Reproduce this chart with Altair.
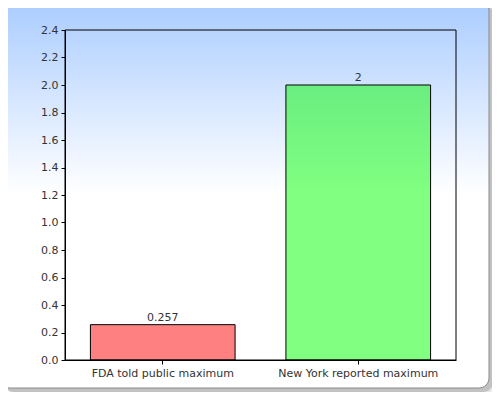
import altair as alt
import pandas as pd

categories = ["FDA told public maximum", "New York reported maximum"]
values = [0.257, 2]
value_labels = ["0.257", "2"]
y_ticks = [0.0, 0.2, 0.4, 0.6, 0.8, 1.0, 1.2, 1.4, 1.6, 1.8, 2.0, 2.2, 2.4]

df = pd.DataFrame({"cat": categories, "val": values, "label": value_labels})

W, H = 391, 330
FONT = "DejaVu Sans"
FS = 11

deco = alt.Data(values=[{"k": 1}])

shadow = alt.Chart(deco).mark_rect(cornerRadius=10, color="#a8a8a8", opacity=0.55).encode(
    x=alt.value(-61), x2=alt.value(428), y=alt.value(-26), y2=alt.value(362)
)
shadow2 = alt.Chart(deco).mark_rect(cornerRadius=11, color="#c8c8c8", opacity=0.5).encode(
    x=alt.value(-60), x2=alt.value(430), y=alt.value(-25), y2=alt.value(364)
)

bg_grad = alt.Gradient(
    gradient="linear",
    stops=[
        alt.GradientStop(color="#aaccff", offset=0),
        alt.GradientStop(color="#ffffff", offset=0.5),
        alt.GradientStop(color="#ffffff", offset=1),
    ],
    x1=0, y1=0, x2=0, y2=1,
)
frame = alt.Chart(deco).mark_rect(
    cornerRadius=10, stroke="#8a8a8a", strokeWidth=1, fill=bg_grad
).encode(x=alt.value(-65), x2=alt.value(424), y=alt.value(-30), y2=alt.value(358))

green_grad = alt.Gradient(
    gradient="linear",
    stops=[
        alt.GradientStop(color="#6aee80", offset=0),
        alt.GradientStop(color="#80ff80", offset=0.39),
        alt.GradientStop(color="#80ff80", offset=1),
    ],
    x1=0, y1=0, x2=0, y2=1,
)

x_enc = alt.X(
    "cat:N",
    sort=categories,
    title=None,
    scale=alt.Scale(paddingInner=0.26, paddingOuter=0.13),
    axis=alt.Axis(
        labelAngle=0, domainColor="black", tickColor="black", tickSize=4,
        labelPadding=3, labelFont=FONT, labelFontSize=FS, labelColor="#333333",
        labelOverlap=False, zindex=1,
    ),
)
y_enc = alt.Y(
    "val:Q",
    title=None,
    scale=alt.Scale(domain=[0, 2.4], nice=False),
    axis=alt.Axis(
        values=y_ticks, format=".1f", grid=False, domainColor="black",
        tickColor="black", tickSize=4, labelPadding=3, labelFont=FONT,
        labelFontSize=FS, labelColor="#333333", labelOverlap=False,
        labelFlush=False, zindex=1,
    ),
)

bars = alt.Chart(df).mark_bar(stroke="black", strokeWidth=1).encode(
    x=x_enc,
    y=y_enc,
    fill=alt.condition(
        alt.datum.cat == categories[1], alt.value(green_grad), alt.value("#ff8080")
    ),
)

texts = alt.Chart(df).mark_text(
    baseline="bottom", dy=-2, fontSize=FS, font=FONT, color="#333333"
).encode(x=x_enc, y=y_enc, text="label:N")

border = alt.Chart(deco).mark_rect(fillOpacity=0, stroke="black", strokeWidth=1).encode(
    x=alt.value(0), x2=alt.value(W), y=alt.value(0), y2=alt.value(H)
)

chart = (
    alt.layer(shadow2, shadow, frame, bars, texts, border)
    .properties(
        width=W,
        height=H,
        padding={"left": 57, "top": 22, "right": 36, "bottom": 32},
        autosize=alt.AutoSizeParams(type="none"),
        background="white",
    )
    .configure_view(strokeWidth=0)
)

chart.save("out.html", embed_options={"renderer": "svg", "actions": False})
